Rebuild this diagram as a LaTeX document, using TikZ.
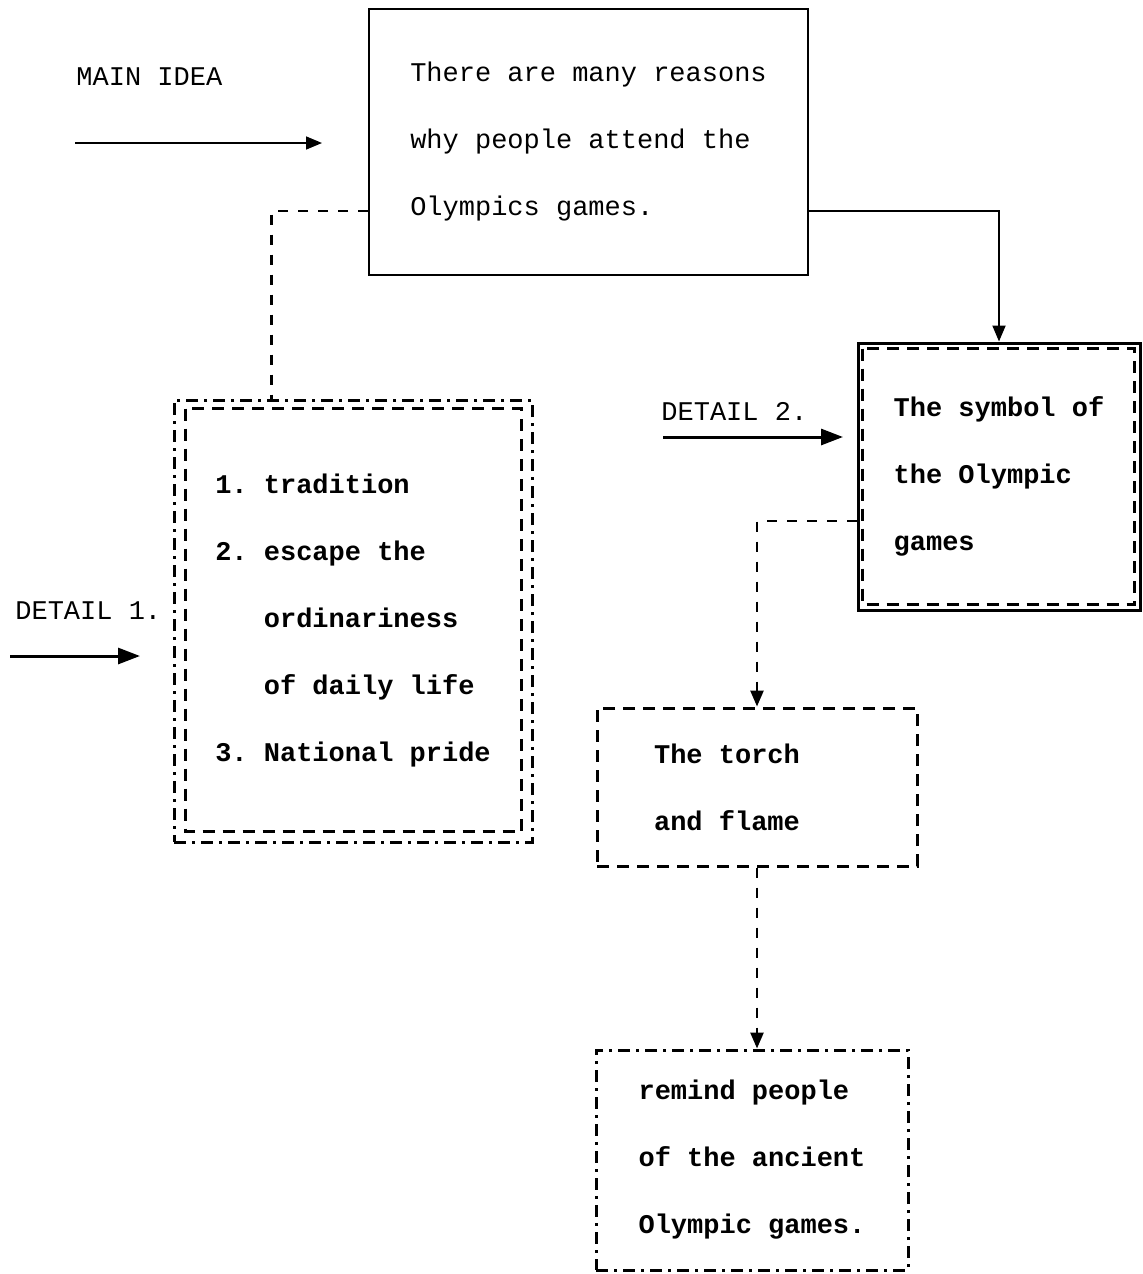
\documentclass[tikz,border=0pt]{standalone}
\usepackage{fontspec}
\setmonofont{Liberation Mono}
\usetikzlibrary{arrows.meta,positioning}
\tikzset{
	lbl/.style={font=\ttfamily\fontsize{13.5}{33.5}\selectfont, inner sep=0pt, anchor=west},
	mtxt/.style={font=\ttfamily\fontsize{13.5}{33.5}\selectfont, align=left},
	btxt/.style={font=\ttfamily\bfseries\fontsize{13.5}{33.5}\selectfont, align=left},
	dashline/.style={line width=1.3pt, dash pattern=on 5pt off 5pt},
	boxdash/.style={line width=1.5pt, dash pattern=on 6pt off 4pt},
	boxdashdot/.style={line width=1.5pt, dash pattern=on 6pt off 3pt on 1.5pt off 3pt}
}
\begin{document}
\begin{tikzpicture}[x=0.5pt,y=-0.5pt,>={Triangle[length=8pt,width=6.5pt]}]
	\useasboundingbox (0,0) rectangle (1142,1274);
	% main idea
	\node[lbl] (mainlbl) at (76,77) {MAIN IDEA};
	\coordinate (m0) at (75,143); \coordinate (m1) at (322,143);
	\draw[line width=0.8pt,->] (m0) -- (m1);
	\node[mtxt, draw, line width=1pt, minimum width=219.5pt, minimum height=133pt] (idea) at (588.5,142) {There are many reasons\\why people attend the\\Olympics games.};

	% detail 1
	\node[lbl] (d1lbl) at (15,611) {DETAIL 1.};
	\coordinate (p0) at (10,656); \coordinate (p1) at (140,656);
	\draw[line width=1.5pt,-{Triangle[length=11pt,width=8pt]}] (p0) -- (p1);
	\node[btxt, boxdashdot, draw, minimum width=179pt, minimum height=221pt] (d1) at (353,621) {1. tradition\\2. escape the\\\phantom{2. }ordinariness\\\phantom{2. }of daily life\\3. National pride};
	\draw[boxdash] ([shift={(13,10)}]d1.north west) rectangle ([shift={(-12,-12)}]d1.south east);
	\draw[dashline] ([shift={(0,69)}]idea.west) -| ([shift={(99,0)}]d1.north west);

	% detail 2
	\node[lbl] (d2lbl) at (661,411) {DETAIL 2.};
	\coordinate (q0) at (663,437); \coordinate (q1) at (843,437);
	\draw[line width=1.5pt,-{Triangle[length=11pt,width=8pt]}] (q0) -- (q1);
	\node[btxt, draw, line width=1.5pt, minimum width=141pt, minimum height=133.5pt] (sym) at (999,476.5) {The symbol of\\the Olympic\\games};
	\draw[boxdash] ([shift={(6,7)}]sym.north west) rectangle ([shift={(-7,-7)}]sym.south east);
	\draw[line width=1pt,->] ([shift={(0,69)}]idea.east) -| (sym.north);

	% torch and flame
	\node[btxt, boxdash, draw, minimum width=160pt, minimum height=79pt] (torch) at (757,787) {The torch\hspace*{30pt}\\and flame};
	\draw[dashline,->] ([shift={(0,44.5)}]sym.west) -| (torch.north);

	% remind
	\node[btxt, boxdashdot, draw, minimum width=156pt, minimum height=110pt] (remind) at (752,1160) {remind people\\of the ancient\\Olympic games.};
	\draw[dashline,->] (torch.south) -- (torch.south |- remind.north);
\end{tikzpicture}
\end{document}
